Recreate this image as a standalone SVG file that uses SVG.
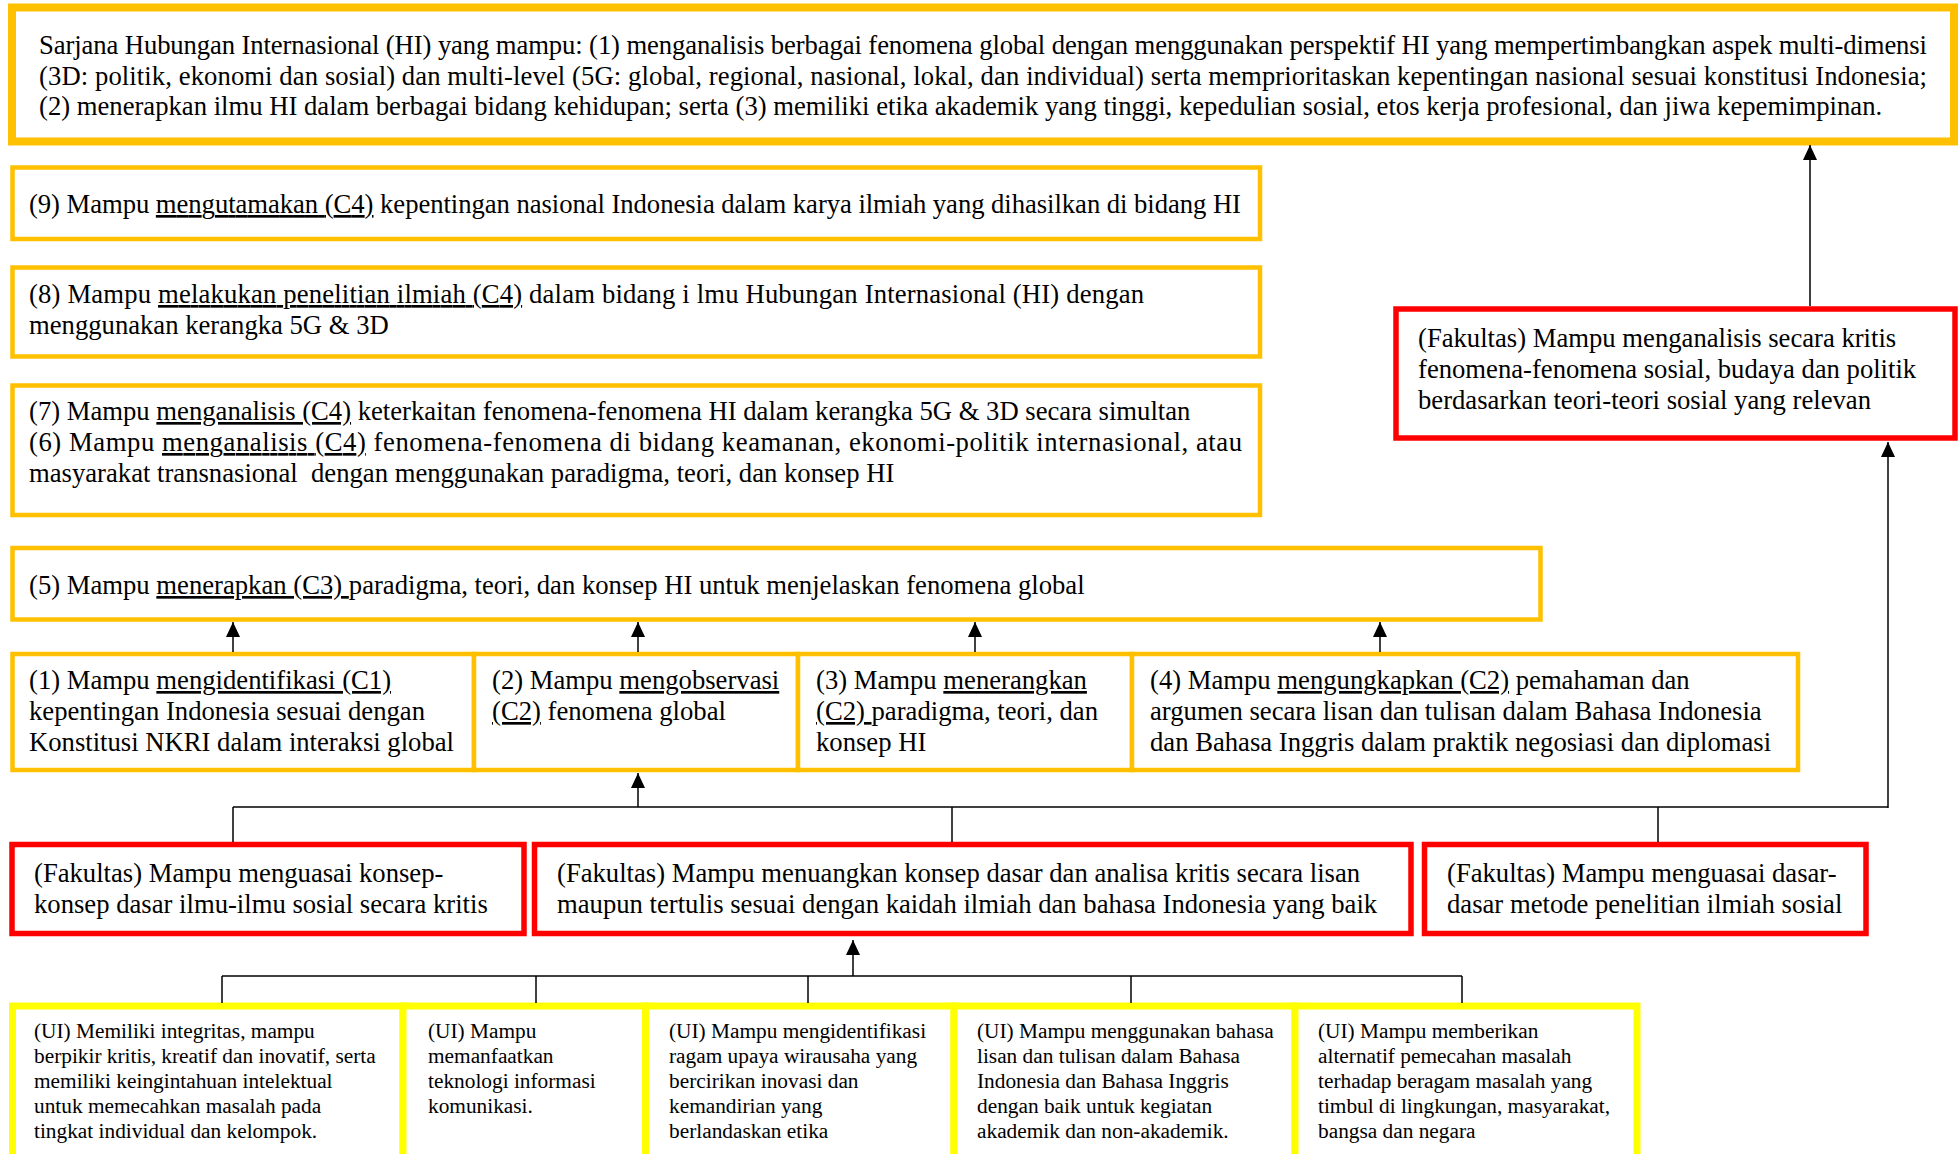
<svg xmlns="http://www.w3.org/2000/svg" width="1959" height="1154" viewBox="0 0 1959 1154">
<style>
.t{font-family:"Liberation Serif","Times New Roman",serif;font-size:26.67px;fill:#000}
.s{font-size:21.33px}
.u{text-decoration:underline}
.y{fill:#fff;stroke:#FFC000;stroke-width:4.5}
.yt{fill:#fff;stroke:#FFC000;stroke-width:8}
.r{fill:#fff;stroke:#FF0000;stroke-width:5.5}
.b{fill:#fff;stroke:#FFFF00;stroke-width:7}
.c{stroke:#000;stroke-width:1.5;fill:none}
</style>
<defs>
<marker id="ah" markerUnits="userSpaceOnUse" markerWidth="15" markerHeight="14" refX="15" refY="7" orient="auto" viewBox="0 0 15 14">
<path d="M0,0 L15,7 L0,14 z" fill="#000"/>
</marker>
</defs>
<rect width="1959" height="1154" fill="#fff"/>

<g id="n-top">
<rect class="yt" x="12" y="7.5" width="1942" height="134"/>
<text class="t" x="39" y="54" textLength="1888" lengthAdjust="spacing">Sarjana Hubungan Internasional (HI) yang mampu: (1) menganalisis berbagai fenomena global dengan menggunakan perspektif HI yang mempertimbangkan aspek multi-dimensi</text>
<text class="t" x="39" y="84.5" textLength="1888" lengthAdjust="spacing">(3D: politik, ekonomi dan sosial) dan multi-level (5G: global, regional, nasional, lokal, dan individual) serta memprioritaskan kepentingan nasional sesuai konstitusi Indonesia;</text>
<text class="t" x="39" y="115">(2) menerapkan ilmu HI dalam berbagai bidang kehidupan; serta (3) memiliki etika akademik yang tinggi, kepedulian sosial, etos kerja profesional, dan jiwa kepemimpinan.</text>
</g>

<g id="n-9">
<rect class="y" x="12.5" y="167.5" width="1247.5" height="71.5"/>
<text class="t" x="29" y="213" textLength="1212" lengthAdjust="spacing">(9) Mampu <tspan class="u">mengutamakan (C4)</tspan> kepentingan nasional Indonesia dalam karya ilmiah yang dihasilkan di bidang HI</text>
</g>

<g id="n-8">
<rect class="y" x="12.5" y="267.5" width="1247.5" height="89"/>
<text class="t" x="29" y="303" textLength="1115" lengthAdjust="spacing">(8) Mampu <tspan class="u">melakukan penelitian ilmiah (C4)</tspan> dalam bidang i lmu Hubungan Internasional (HI) dengan</text>
<text class="t" x="29" y="333.5">menggunakan kerangka 5G &amp; 3D</text>
</g>

<g id="n-7-6">
<rect class="y" x="12.5" y="385.5" width="1247.5" height="129.5"/>
<text class="t" x="29" y="420">(7) Mampu <tspan class="u">menganalisis (C4)</tspan> keterkaitan fenomena-fenomena HI dalam kerangka 5G &amp; 3D secara simultan</text>
<text class="t" x="29" y="451" textLength="1213" lengthAdjust="spacing">(6) Mampu <tspan class="u">menganalisis (C4)</tspan> fenomena-fenomena di bidang keamanan, ekonomi-politik internasional, atau</text>
<text class="t" x="29" y="482" style="white-space:pre">masyarakat transnasional  dengan menggunakan paradigma, teori, dan konsep HI</text>
</g>

<g id="n-5">
<rect class="y" x="12.5" y="548" width="1528" height="71.5"/>
<text class="t" x="29" y="594" style="white-space:pre">(5) Mampu <tspan class="u">menerapkan (C3) </tspan>paradigma, teori, dan konsep HI untuk menjelaskan fenomena global</text>
</g>

<g id="n-1">
<rect class="y" x="12.5" y="654" width="461.5" height="116"/>
<text class="t" x="29" y="689">(1) Mampu <tspan class="u">mengidentifikasi (C1)</tspan></text>
<text class="t" x="29" y="720">kepentingan Indonesia sesuai dengan</text>
<text class="t" x="29" y="751">Konstitusi NKRI dalam interaksi global</text>
</g>

<g id="n-2">
<rect class="y" x="474" y="654" width="324" height="116"/>
<text class="t" x="492" y="689">(2) Mampu <tspan class="u">mengobservasi</tspan></text>
<text class="t" x="492" y="720"><tspan class="u">(C2)</tspan> fenomena global</text>
</g>

<g id="n-3">
<rect class="y" x="798" y="654" width="334" height="116"/>
<text class="t" x="816" y="689">(3) Mampu <tspan class="u">menerangkan</tspan></text>
<text class="t" x="816" y="720" style="white-space:pre"><tspan class="u">(C2) </tspan>paradigma, teori, dan</text>
<text class="t" x="816" y="751">konsep HI</text>
</g>

<g id="n-4">
<rect class="y" x="1132" y="654" width="666" height="116"/>
<text class="t" x="1150" y="689">(4) Mampu <tspan class="u">mengungkapkan (C2)</tspan> pemahaman dan</text>
<text class="t" x="1150" y="720">argumen secara lisan dan tulisan dalam Bahasa Indonesia</text>
<text class="t" x="1150" y="751">dan Bahasa Inggris dalam praktik negosiasi dan diplomasi</text>
</g>

<g id="n-fak-r">
<rect class="r" x="1396" y="309" width="559" height="129"/>
<text class="t" x="1418" y="347">(Fakultas) Mampu menganalisis secara kritis</text>
<text class="t" x="1418" y="378">fenomena-fenomena sosial, budaya dan politik</text>
<text class="t" x="1418" y="409">berdasarkan teori-teori sosial yang relevan</text>
</g>

<g id="n-fak-a">
<rect class="r" x="12" y="844.5" width="512" height="89"/>
<text class="t" x="34" y="882">(Fakultas) Mampu menguasai konsep-</text>
<text class="t" x="34" y="912.5">konsep dasar ilmu-ilmu sosial secara kritis</text>
</g>

<g id="n-fak-b">
<rect class="r" x="534.5" y="844.5" width="876.5" height="89"/>
<text class="t" x="557" y="882">(Fakultas) Mampu menuangkan konsep dasar dan analisa kritis secara lisan</text>
<text class="t" x="557" y="912.5">maupun tertulis sesuai dengan kaidah ilmiah dan bahasa Indonesia yang baik</text>
</g>

<g id="n-fak-c">
<rect class="r" x="1424.5" y="844.5" width="441.5" height="89"/>
<text class="t" x="1447" y="882">(Fakultas) Mampu menguasai dasar-</text>
<text class="t" x="1447" y="912.5">dasar metode penelitian ilmiah sosial</text>
</g>

<g id="n-ui1">
<rect class="b" x="12.5" y="1006" width="390.5" height="170"/>
<text class="t s" x="34" y="1038">(UI) Memiliki integritas, mampu</text>
<text class="t s" x="34" y="1063">berpikir kritis, kreatif dan inovatif, serta</text>
<text class="t s" x="34" y="1088">memiliki keingintahuan intelektual</text>
<text class="t s" x="34" y="1113">untuk memecahkan masalah pada</text>
<text class="t s" x="34" y="1138">tingkat individual dan kelompok.</text>
</g>

<g id="n-ui2">
<rect class="b" x="403" y="1006" width="242.5" height="170"/>
<text class="t s" x="428" y="1038">(UI) Mampu</text>
<text class="t s" x="428" y="1063">memanfaatkan</text>
<text class="t s" x="428" y="1088">teknologi informasi</text>
<text class="t s" x="428" y="1113">komunikasi.</text>
</g>

<g id="n-ui3">
<rect class="b" x="645.5" y="1006" width="308.5" height="170"/>
<text class="t s" x="669" y="1038">(UI) Mampu mengidentifikasi</text>
<text class="t s" x="669" y="1063">ragam upaya wirausaha yang</text>
<text class="t s" x="669" y="1088">bercirikan inovasi dan</text>
<text class="t s" x="669" y="1113">kemandirian yang</text>
<text class="t s" x="669" y="1138">berlandaskan etika</text>
</g>

<g id="n-ui4">
<rect class="b" x="954" y="1006" width="341" height="170"/>
<text class="t s" x="977" y="1038">(UI) Mampu menggunakan bahasa</text>
<text class="t s" x="977" y="1063">lisan dan tulisan dalam Bahasa</text>
<text class="t s" x="977" y="1088">Indonesia dan Bahasa Inggris</text>
<text class="t s" x="977" y="1113">dengan baik untuk kegiatan</text>
<text class="t s" x="977" y="1138">akademik dan non-akademik.</text>
</g>

<g id="n-ui5">
<rect class="b" x="1295" y="1006" width="342" height="170"/>
<text class="t s" x="1318" y="1038">(UI) Mampu memberikan</text>
<text class="t s" x="1318" y="1063">alternatif pemecahan masalah</text>
<text class="t s" x="1318" y="1088">terhadap beragam masalah yang</text>
<text class="t s" x="1318" y="1113">timbul di lingkungan, masyarakat,</text>
<text class="t s" x="1318" y="1138">bangsa dan negara</text>
</g>

<g id="connectors">
<line class="c" x1="1810" y1="306" x2="1810" y2="145" marker-end="url(#ah)"/>
<line class="c" x1="233" y1="652" x2="233" y2="622" marker-end="url(#ah)"/>
<line class="c" x1="638" y1="652" x2="638" y2="622" marker-end="url(#ah)"/>
<line class="c" x1="975" y1="652" x2="975" y2="622" marker-end="url(#ah)"/>
<line class="c" x1="1380" y1="652" x2="1380" y2="622" marker-end="url(#ah)"/>
<line class="c" x1="233" y1="807" x2="1888" y2="807"/>
<line class="c" x1="233" y1="807" x2="233" y2="842"/>
<line class="c" x1="952" y1="807" x2="952" y2="842"/>
<line class="c" x1="1658" y1="807" x2="1658" y2="842"/>
<line class="c" x1="638" y1="807" x2="638" y2="773" marker-end="url(#ah)"/>
<line class="c" x1="1888" y1="808" x2="1888" y2="442" marker-end="url(#ah)"/>
<line class="c" x1="222" y1="976" x2="1462" y2="976"/>
<line class="c" x1="222" y1="976" x2="222" y2="1003"/>
<line class="c" x1="536" y1="976" x2="536" y2="1003"/>
<line class="c" x1="808" y1="976" x2="808" y2="1003"/>
<line class="c" x1="1131" y1="976" x2="1131" y2="1003"/>
<line class="c" x1="1462" y1="976" x2="1462" y2="1003"/>
<line class="c" x1="853" y1="976" x2="853" y2="940" marker-end="url(#ah)"/>
</g>
</svg>
